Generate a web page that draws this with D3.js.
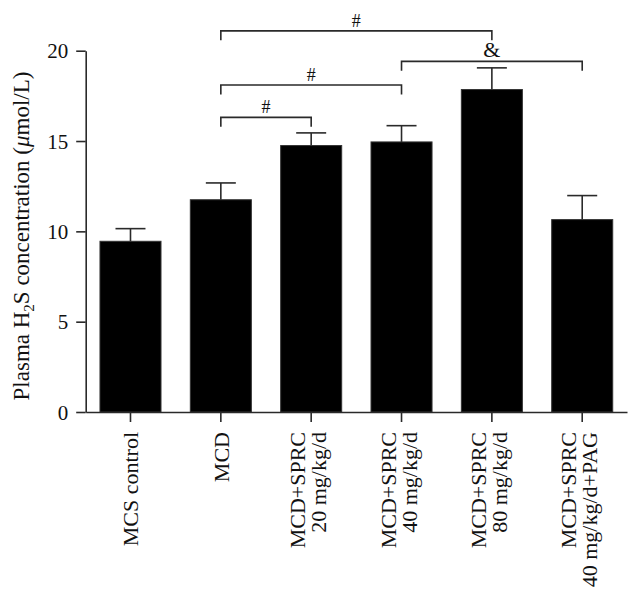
<!DOCTYPE html>
<html>
<head>
<meta charset="utf-8">
<script src="https://cdn.jsdelivr.net/npm/d3@7"></script>
<style>
  html, body { margin: 0; padding: 0; background: #fff; }
  svg { display: block; }
  text { font-family: "Liberation Serif", "Times New Roman", serif; fill: #111; }
</style>
</head>
<body>
<div id="chart"></div>
<script>
// ---- data ----
const categories = [
  ["MCS control"],
  ["MCD"],
  ["MCD+SPRC", "20 mg/kg/d"],
  ["MCD+SPRC", "40 mg/kg/d"],
  ["MCD+SPRC", "80 mg/kg/d"],
  ["MCD+SPRC", "40 mg/kg/d+PAG"]
];
const means = [9.45, 11.75, 14.75, 14.95, 17.85, 10.65];
const errors = [0.7, 0.93, 0.7, 0.9, 1.2, 1.33];
const yTicks = [0, 5, 10, 15, 20];
// significance brackets: [from index, to index, level (value units), symbol]
const bracketFrom = [1, 3, 1, 1];
const bracketTo = [4, 5, 3, 2];
const bracketLevel = [21.1, 19.41, 18.1, 16.31];
const bracketSymbol = ["#", "&", "#", "#"];

// ---- layout ----
const W = 640, H = 599;
const axisX = 85.7, axisY = 412, topY = 50.7, rightX = 627;

const svg = d3.select("#chart").append("svg")
  .attr("width", W).attr("height", H);

const x = d3.scaleBand()
  .domain(d3.range(categories.length))
  .range([axisX, rightX])
  .paddingInner(0.3245)
  .paddingOuter(0.158);

const y = d3.scaleLinear().domain([0, 20]).range([axisY, topY]);

const stroke = "#2a2a2a";

// bars
svg.append("g").selectAll("rect")
  .data(means)
  .join("rect")
  .attr("x", (d, i) => x(i))
  .attr("y", d => y(d))
  .attr("width", x.bandwidth())
  .attr("height", d => y(0) - y(d))
  .attr("fill", "#000")
  .attr("stroke", "#333")
  .attr("stroke-width", 1);

// error bars
const eb = svg.append("g").attr("stroke", stroke).attr("stroke-width", 1.6);
means.forEach((m, i) => {
  const cx = x(i) + x.bandwidth() / 2;
  eb.append("line").attr("x1", cx).attr("x2", cx)
    .attr("y1", y(m)).attr("y2", y(m + errors[i]));
  eb.append("line").attr("x1", cx - 15).attr("x2", cx + 15)
    .attr("y1", y(m + errors[i])).attr("y2", y(m + errors[i]));
});

// y axis
const yAxis = svg.append("g")
  .attr("transform", `translate(${axisX},0)`)
  .call(d3.axisLeft(y).tickValues(yTicks).tickSize(9.5).tickPadding(8).tickSizeOuter(0));
yAxis.select(".domain").attr("stroke", stroke).attr("stroke-width", 1.6);
yAxis.selectAll(".tick line").attr("stroke", stroke).attr("stroke-width", 1.6);
yAxis.selectAll(".tick text")
  .style("font-family", '"Liberation Serif", serif')
  .style("font-size", "21px").attr("fill", "#111").attr("dy", "0.34em");

// x axis
const xAxis = svg.append("g")
  .attr("transform", `translate(0,${axisY})`)
  .call(d3.axisBottom(x).tickSize(10).tickSizeOuter(0).tickFormat(""));
xAxis.select(".domain").attr("stroke", stroke).attr("stroke-width", 1.6);
xAxis.selectAll(".tick line").attr("stroke", stroke).attr("stroke-width", 1.6);

// x labels (rotated)
const lh = 21;
categories.forEach((lines, i) => {
  const cx = x(i) + x.bandwidth() / 2;
  const t = svg.append("text")
    .attr("transform", `translate(${cx},${axisY + 20}) rotate(-90)`)
    .attr("text-anchor", "end")
    .style("font-size", "22px");
  lines.forEach((ln, j) => {
    const off = (j - (lines.length - 1) / 2) * lh - (lines.length > 1 ? 3 : 0);
    t.append("tspan").attr("x", 0).attr("y", off).attr("dy", "0.35em").text(ln);
  });
});

// y label
const yl = svg.append("text")
  .attr("transform", `translate(29,236) rotate(-90)`)
  .attr("text-anchor", "middle")
  .style("font-size", "23px");
yl.append("tspan").text("Plasma H");
yl.append("tspan").attr("dy", 5).style("font-size", "15px").text("2");
yl.append("tspan").attr("dy", -5).text("S concentration (");
yl.append("tspan").style("font-style", "italic").text("μ");
yl.append("tspan").text("mol/L)");

// brackets
const bg = svg.append("g");
bracketLevel.forEach((lev, k) => {
  const x1 = x(bracketFrom[k]) + x.bandwidth() / 2;
  const x2 = x(bracketTo[k]) + x.bandwidth() / 2;
  const yy = y(lev);
  bg.append("path")
    .attr("d", `M${x1},${yy + 9.5}V${yy}H${x2}V${yy + 9.5}`)
    .attr("fill", "none").attr("stroke", stroke).attr("stroke-width", 1.6);
  const sym = bracketSymbol[k];
  bg.append("text")
    .attr("x", (x1 + x2) / 2)
    .attr("y", yy - 4)
    .attr("text-anchor", "middle")
    .style("font-size", sym === "&" ? "22px" : "18px")
    .text(sym);
});
</script>
</body>
</html>
